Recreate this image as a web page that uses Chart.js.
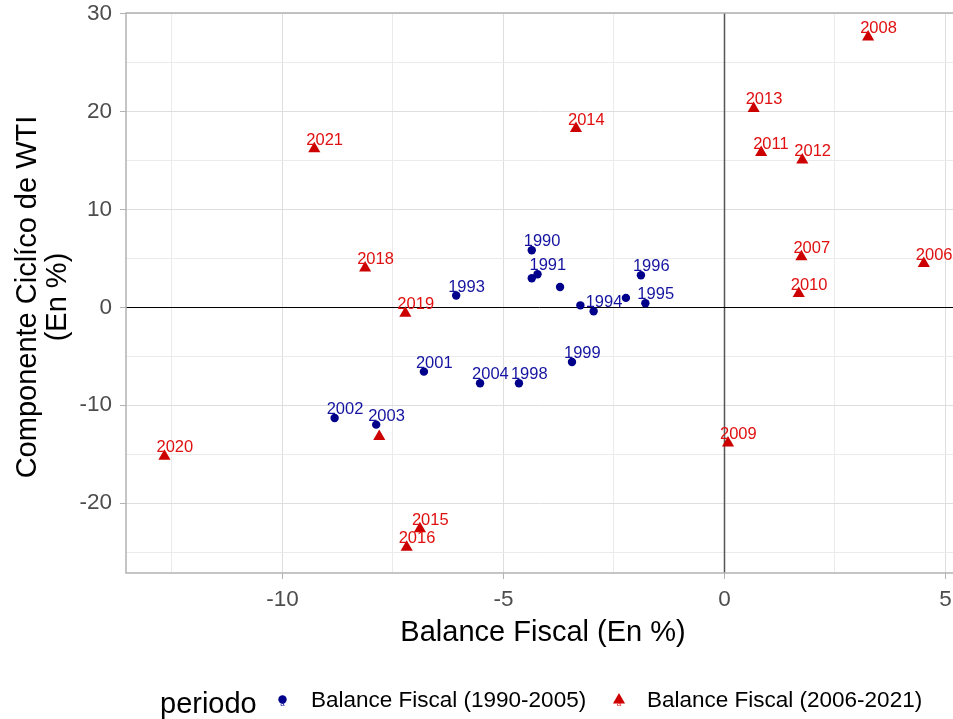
<!DOCTYPE html>
<html>
<head>
<meta charset="utf-8">
<script src="https://cdn.jsdelivr.net/npm/chart.js@4.4.1/dist/chart.umd.min.js"></script>
<style>
  html, body { margin: 0; padding: 0; background: #fff; overflow: hidden; }
  #wrap { width: 953px; height: 719px; position: relative; }
</style>
</head>
<body>
<div id="wrap"><canvas id="chart" width="953" height="719"></canvas></div>
<script>
// Balance fiscal vs componente ciclico del WTI
const years1 = [1990, 1991, 1992, 1993, 1994, 1995, 1996, 1997, 1998, 1999, 2000, 2001, 2002, 2003, 2004, 2005];
const fiscal1 = [-4.36, -4.23, -4.36, -6.07, -2.96, -1.79, -1.89, -2.23, -4.65, -3.45, -3.72, -6.80, -8.82, -7.88, -5.53, -3.26];
const wti1 = [5.83, 3.37, 2.96, 1.20, -0.40, 0.41, 3.27, 0.96, -7.76, -5.58, 2.08, -6.57, -11.30, -11.98, -7.76, 0.20];

const years2 = [2006, 2007, 2008, 2009, 2010, 2011, 2012, 2013, 2014, 2015, 2016, 2017, 2018, 2019, 2020, 2021];
const fiscal2 = [4.51, 1.74, 3.25, 0.08, 1.68, 0.83, 1.76, 0.66, -3.36, -6.89, -7.19, -7.81, -8.13, -7.22, -12.67, -9.28];
const wti2 = [4.46, 5.15, 27.60, -13.85, 1.40, 15.80, 15.05, 20.30, 18.25, -22.60, -24.50, -13.20, 4.00, -0.60, -15.20, 16.20];

// labels dropped by overlap check in the original
const hiddenYears = [1992, 1997, 2000, 2005, 2017];

const seriesNames = ['Balance Fiscal (1990-2005)', 'Balance Fiscal (2006-2021)'];
const xTicks = [-10, -5, 0, 5];
const yTicks = [-20, -10, 0, 10, 20, 30];

const FONT = '"Liberation Sans", Arial, sans-serif';
const BLUE = '#00008B';
const RED = '#CD0000';
const BLUE_TXT = '#1414A0';
const RED_TXT = '#E01010';

function pts(xs, ys, yrs) {
  return xs.map((x, i) => ({ x: x, y: ys[i], year: yrs[i] }));
}

const decorations = {
  id: 'decorations',
  beforeDatasetsDraw(chart) {
    const { ctx, chartArea: a, scales: { x, y } } = chart;
    ctx.save();
    // reference lines at 0
    const x0 = Math.round(x.getPixelForValue(0)) + 0.5;
    ctx.strokeStyle = '#555555';
    ctx.lineWidth = 1.5;
    ctx.beginPath(); ctx.moveTo(x0, a.top); ctx.lineTo(x0, a.bottom); ctx.stroke();
    const y0 = Math.round(y.getPixelForValue(0)) + 0.5;
    ctx.strokeStyle = '#000000';
    ctx.lineWidth = 1;
    ctx.beginPath(); ctx.moveTo(a.left, y0); ctx.lineTo(a.right, y0); ctx.stroke();
    // panel border
    ctx.strokeStyle = '#B3B3B3';
    ctx.lineWidth = 1.5;
    ctx.beginPath();
    ctx.moveTo(a.right + 2, a.top);
    ctx.lineTo(a.left, a.top);
    ctx.lineTo(a.left, a.bottom);
    ctx.lineTo(a.right + 2, a.bottom);
    ctx.stroke();
    ctx.restore();
  },
  afterDatasetsDraw(chart) {
    const { ctx } = chart;
    ctx.save();
    ctx.font = '16.5px ' + FONT;
    ctx.textAlign = 'left';
    ctx.textBaseline = 'alphabetic';
    chart.data.datasets.forEach((ds, di) => {
      const meta = chart.getDatasetMeta(di);
      ctx.fillStyle = di === 0 ? BLUE_TXT : RED_TXT;
      meta.data.forEach((el, i) => {
        const yr = ds.data[i].year;
        if (hiddenYears.includes(yr)) return;
        ctx.fillText(String(yr), el.x - 8, el.y - 4);
      });
    });
    ctx.restore();
  },
  afterDraw(chart) {
    const { ctx } = chart;
    ctx.save();
    ctx.fillStyle = '#000';
    // x title
    ctx.font = '29px ' + FONT;
    ctx.textAlign = 'center';
    ctx.textBaseline = 'alphabetic';
    ctx.fillText('Balance Fiscal (En %)', 543, 641);
    // y title (two lines)
    ctx.save();
    ctx.translate(0, 297);
    ctx.rotate(-Math.PI / 2);
    ctx.fillText('Componente Ciclíco de WTI', 0, 36);
    ctx.fillText('(En %)', 0, 66);
    ctx.restore();
    // legend
    ctx.textAlign = 'left';
    ctx.font = '29px ' + FONT;
    ctx.fillText('periodo', 160, 713);
    ctx.font = '22.5px ' + FONT;
    ctx.textBaseline = 'middle';
    ctx.fillText(seriesNames[0], 311, 701);
    ctx.fillText(seriesNames[1], 647, 701);
    // keys
    ctx.fillStyle = BLUE;
    ctx.beginPath(); ctx.arc(282.5, 699.5, 4.2, 0, Math.PI * 2); ctx.fill();
    ctx.fillStyle = RED;
    const r = 7;
    ctx.beginPath();
    ctx.moveTo(619, 700 - r);
    ctx.lineTo(619 + r * 0.866, 700 + r / 2);
    ctx.lineTo(619 - r * 0.866, 700 + r / 2);
    ctx.closePath(); ctx.fill();
    ctx.font = '8px ' + FONT;
    ctx.textAlign = 'center';
    ctx.textBaseline = 'alphabetic';
    ctx.fillStyle = BLUE_TXT;
    ctx.fillText('a', 282.5, 706);
    ctx.fillStyle = RED_TXT;
    ctx.fillText('a', 619, 706);
    ctx.restore();
  }
};

const gridColor = (ctx, majors) => {
  const v = ctx.tick ? ctx.tick.value : null;
  return majors.includes(v) ? '#DEDEDE' : '#EBEBEB';
};

new Chart(document.getElementById('chart'), {
  type: 'scatter',
  data: {
    datasets: [
      {
        label: seriesNames[0],
        data: pts(fiscal1, wti1, years1),
        pointStyle: 'circle',
        pointRadius: 4.2,
        pointHoverRadius: 4.2,
        backgroundColor: BLUE,
        borderColor: BLUE,
        borderWidth: 0
      },
      {
        label: seriesNames[1],
        data: pts(fiscal2, wti2, years2),
        pointStyle: 'triangle',
        pointRadius: 7,
        pointHoverRadius: 7,
        backgroundColor: RED,
        borderColor: RED,
        borderWidth: 0
      }
    ]
  },
  options: {
    responsive: false,
    animation: false,
    layout: { autoPadding: false, padding: { top: 13, right: 0, left: 0, bottom: 0 } },
    plugins: {
      legend: { display: false },
      tooltip: { enabled: false }
    },
    scales: {
      x: {
        type: 'linear',
        min: -13.54,
        max: 5.17,
        afterFit: (s) => { s.height = 146; s.paddingLeft = 0; s.paddingRight = 0; },
        border: { display: false },
        grid: {
          color: (c) => gridColor(c, xTicks),
          lineWidth: 1,
          tickLength: 6,
          tickColor: (c) => xTicks.includes(c.tick.value) ? '#B3B3B3' : 'rgba(0,0,0,0)'
        },
        ticks: {
          stepSize: 2.5,
          includeBounds: false,
          autoSkip: false,
          maxRotation: 0,
          padding: 7,
          color: '#4D4D4D',
          font: { family: FONT, size: 22.5 },
          callback: (v) => xTicks.includes(v) ? String(v) : ''
        }
      },
      y: {
        type: 'linear',
        min: -27.13,
        max: 30.05,
        afterFit: (s) => { s.width = 126; s.paddingTop = 0; s.paddingBottom = 0; },
        border: { display: false },
        grid: {
          color: (c) => gridColor(c, yTicks),
          lineWidth: 1,
          tickLength: 6,
          tickColor: (c) => yTicks.includes(c.tick.value) ? '#B3B3B3' : 'rgba(0,0,0,0)'
        },
        ticks: {
          stepSize: 5,
          includeBounds: false,
          autoSkip: false,
          padding: 8,
          color: '#4D4D4D',
          font: { family: FONT, size: 22.5 },
          callback: (v) => yTicks.includes(v) ? String(v) : ''
        }
      }
    }
  },
  plugins: [decorations]
});
</script>
</body>
</html>
